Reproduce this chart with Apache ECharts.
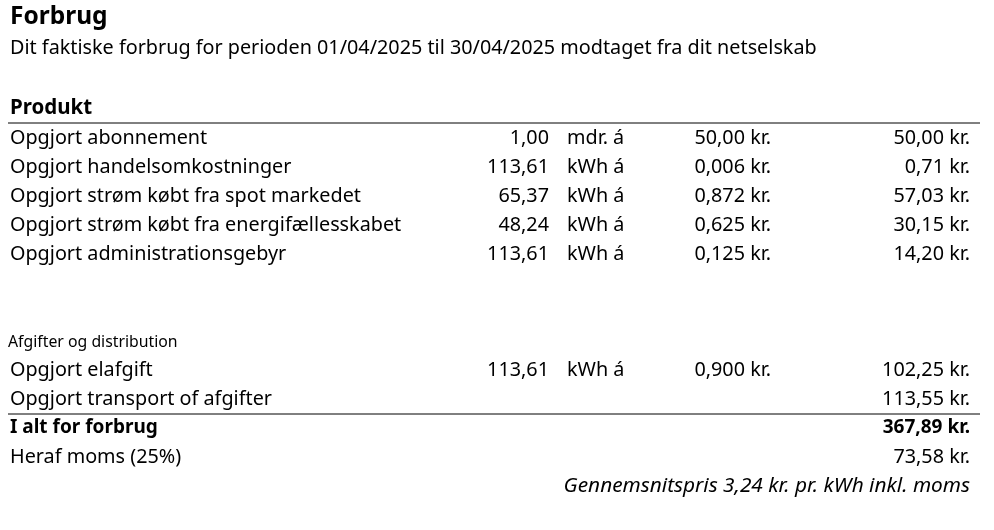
<!DOCTYPE html>
<html><head><meta charset="utf-8">
<script src="https://cdn.jsdelivr.net/npm/echarts@6/dist/echarts.min.js"></script>
<style>html,body{margin:0;background:#fff}#c{width:994px;height:530px}</style>
</head><body><div id="c"></div>
<script>
const title = "Forbrug";
const subtitle = "Dit faktiske forbrug for perioden 01/04/2025 til 30/04/2025 modtaget fra dit netselskab";
const productLabels = ["Opgjort abonnement","Opgjort handelsomkostninger","Opgjort strøm købt fra spot markedet","Opgjort strøm købt fra energifællesskabet","Opgjort administrationsgebyr"];
const productQty = ["1,00","113,61","65,37","48,24","113,61"];
const productUnit = ["mdr. á","kWh á","kWh á","kWh á","kWh á"];
const productPrice = ["50,00 kr.","0,006 kr.","0,872 kr.","0,625 kr.","0,125 kr."];
const productAmount = ["50,00 kr.","0,71 kr.","57,03 kr.","30,15 kr.","14,20 kr."];
const feeLabels = ["Opgjort elafgift","Opgjort transport of afgifter"];
const feeQty = ["113,61",""];
const feeUnit = ["kWh á",""];
const feePrice = ["0,900 kr.",""];
const feeAmount = ["102,25 kr.","113,55 kr."];
const totalLabel = "I alt for forbrug", totalAmount = "367,89 kr.";
const vatLabel = "Heraf moms (25%)", vatAmount = "73,58 kr.";
const avgNote = "Gennemsnitspris 3,24 kr. pr. kWh inkl. moms";

const F = "'Noto Sans', Lato, sans-serif";
const els = [];
function t(x, y, s, opt) {
  opt = opt || {};
  els.push({type:'text', x:x, y:y, style:{text:s, fill:'#000', font:(opt.style||'')+' '+(opt.weight||'normal')+' '+(opt.size||19.8)+'px '+F, align:opt.align||'left', verticalAlign:'middle'}});
}
function line(y){ els.push({type:'line', shape:{x1:8,y1:y,x2:980,y2:y}, style:{stroke:'#000',lineWidth:1}}); }
function row(y, l, q, u, p, a, opt) {
  t(10, y, l, opt);
  if (q) t(549, y, q, {align:'right'});
  if (u) t(567, y, u);
  if (p) t(771, y, p, {align:'right'});
  if (a) t(970, y, a, Object.assign({align:'right'}, opt||{}));
}
t(10, 17, title, {weight:'bold', size:24.5});
t(10, 48, subtitle, {size:19.8});
t(10, 108, "Produkt", {weight:'bold', size:20.5});
line(123);
productLabels.forEach((l,i)=>row(138+29*i, l, productQty[i], productUnit[i], productPrice[i], productAmount[i]));
t(8, 342, "Afgifter og distribution", {size:15.8});
feeLabels.forEach((l,i)=>row(370+29*i, l, feeQty[i], feeUnit[i], feePrice[i], feeAmount[i]));
line(414);
row(428, totalLabel, "", "", "", totalAmount, {weight:'bold', size:19});
row(457, vatLabel, "", "", "", vatAmount);
t(970, 486, avgNote, {align:'right', style:'italic', size:20.8});

const chart = echarts.init(document.getElementById('c'));
chart.setOption({animation:false, graphic:{elements:els}});
</script></body></html>
